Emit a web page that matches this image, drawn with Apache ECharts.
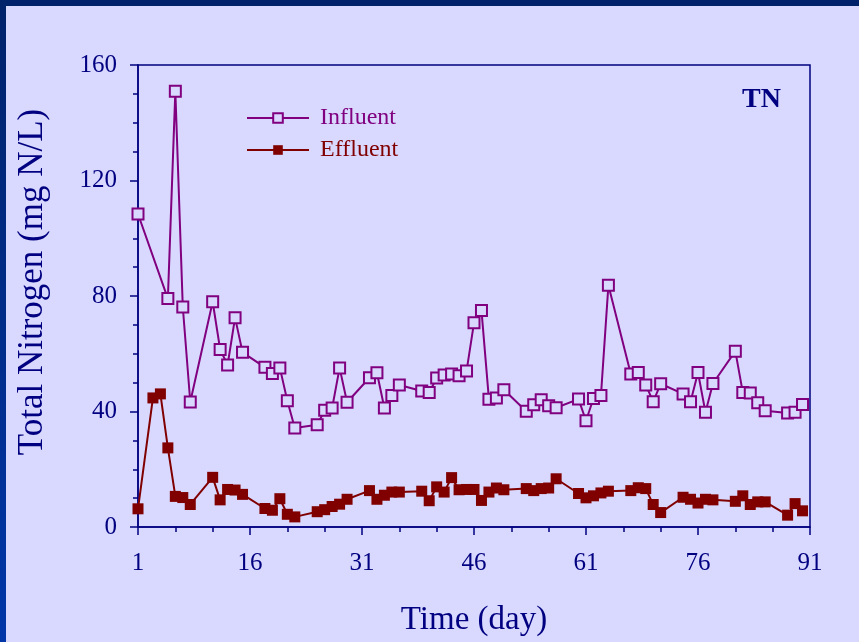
<!DOCTYPE html>
<html>
<head>
<meta charset="utf-8">
<script src="https://cdn.jsdelivr.net/npm/echarts@6/dist/echarts.min.js"></script>
<style>
html,body{margin:0;padding:0;background:#D9D9FF;}
#c{width:859px;height:642px;}
</style>
</head>
<body>
<div id="c"></div>
<script>
// ---- data ----
const infDays = [1,5,6,7,8,11,12,13,14,15,18,19,20,21,22,25,26,27,28,29,32,33,34,35,36,39,40,41,42,43,44,45,46,47,48,49,50,53,54,55,56,57,60,61,62,63,64,67,68,69,70,71,74,75,76,77,78,81,82,83,84,85,88,89,90];
const infValues = [108.4,79.1,150.9,76.2,43.3,78.0,61.5,56.1,72.5,60.5,55.3,53.2,55.1,43.7,34.3,35.4,40.4,41.2,55.1,43.2,51.7,53.4,41.2,45.5,49.2,47.1,46.6,51.6,52.6,53.0,52.4,54.0,70.7,75.0,44.2,44.7,47.5,40.1,42.3,44.1,42.0,41.3,44.3,36.8,44.5,45.5,83.7,53.0,53.5,49.2,43.4,49.6,46.1,43.4,53.5,39.7,49.7,60.9,46.6,46.4,43.0,40.3,39.5,39.7,42.4];
const effDays = [1,3,4,5,6,7,8,11,12,13,14,15,18,19,20,21,22,25,26,27,28,29,32,33,34,35,36,39,40,41,42,43,44,45,46,47,48,49,50,53,54,55,56,57,60,61,62,63,64,67,68,69,70,71,74,75,76,77,78,81,82,83,84,85,88,89,90];
const effValues = [6.3,44.7,46.1,27.4,10.6,10.2,7.8,17.2,9.4,13.0,12.8,11.3,6.4,5.8,9.8,4.4,3.5,5.3,6.0,7.1,7.9,9.6,12.6,9.6,11.0,12.1,12.1,12.4,9.1,13.9,12.1,17.1,12.9,13.0,13.0,9.2,12.1,13.5,12.9,13.3,12.6,13.3,13.5,16.7,11.6,10.1,10.8,11.8,12.4,12.6,13.6,13.3,7.8,5.0,10.3,9.6,8.3,9.6,9.4,8.9,10.8,7.8,8.7,8.7,4.1,8.1,5.6];
const seriesNames = ['Influent','Effluent'];
const xTickLabels = ['1','16','31','46','61','76','91'];
const yTickLabels = ['0','40','80','120','160'];
const xTitle = 'Time (day)';
const yTitle = 'Total Nitrogen (mg N/L)';
const tag = 'TN';

// ---- chart ----
const NAVY = '#000080';
const PURPLE = '#800080';
const DARKRED = '#800000';
const BG = '#D9D9FF';
const FONT = '"Liberation Serif","DejaVu Serif",serif';

const pairs = (d, v) => d.map((x, i) => [x - 1, v[i]]);

const chart = echarts.init(document.getElementById('c'), null, {renderer: 'canvas'});
chart.setOption({
  backgroundColor: BG,
  animation: false,
  graphic: [
    {type: 'rect', shape: {x: 0, y: 0, width: 859, height: 6}, style: {fill: '#00226A'}, z: 100},
    {type: 'rect', shape: {x: 0, y: 0, width: 6, height: 642},
      style: {fill: new echarts.graphic.LinearGradient(0, 0, 0, 1, [{offset: 0, color: '#00226A'}, {offset: 1, color: '#0036A8'}])}, z: 100},
    {type: 'text', left: 742, top: 86, style: {text: tag, font: 'bold 28px ' + FONT, fill: NAVY}}
  ],
  grid: {left: 138, right: 49, top: 65, bottom: 113, show: true, borderColor: NAVY, borderWidth: 1.5, backgroundColor: 'transparent'},
  legend: {
    orient: 'vertical', left: 241, top: 101, itemWidth: 62, itemHeight: 12, itemGap: 8,
    data: [
      {name: seriesNames[0], textStyle: {color: PURPLE}},
      {name: seriesNames[1], textStyle: {color: DARKRED}}
    ],
    textStyle: {fontFamily: FONT, fontSize: 24, padding: [0, 0, 0, 6]}
  },
  xAxis: {
    type: 'value', min: 0, max: 90, interval: 15,
    name: xTitle, nameLocation: 'middle', nameGap: 77,
    nameTextStyle: {fontFamily: FONT, fontSize: 33, color: NAVY},
    axisLine: {lineStyle: {color: NAVY, width: 1.5}},
    axisTick: {show: true, length: 8, lineStyle: {color: NAVY, width: 1.5}},
    minorTick: {show: true, splitNumber: 3, length: 5, lineStyle: {color: NAVY, width: 1.5}},
    splitLine: {show: false},
    axisLabel: {
      fontFamily: FONT, fontSize: 25, color: NAVY, margin: 24,
      formatter: v => xTickLabels[Math.round(v / 15)]
    }
  },
  yAxis: {
    type: 'value', min: 0, max: 160, interval: 40,
    name: yTitle, nameLocation: 'middle', nameGap: 88,
    nameTextStyle: {fontFamily: FONT, fontSize: 35, color: NAVY, padding: [0, 0, 0, 28]},
    axisLine: {show: true, lineStyle: {color: NAVY, width: 1.5}},
    axisTick: {show: true, length: 8, lineStyle: {color: NAVY, width: 1.5}},
    minorTick: {show: true, splitNumber: 4, length: 5, lineStyle: {color: NAVY, width: 1.5}},
    splitLine: {show: false},
    axisLabel: {
      fontFamily: FONT, fontSize: 25, color: NAVY, margin: 21,
      formatter: v => yTickLabels[Math.round(v / 40)]
    }
  },
  series: [
    {
      name: seriesNames[0], type: 'line', data: pairs(infDays, infValues),
      symbol: 'rect', symbolSize: 11, showAllSymbol: true,
      lineStyle: {color: PURPLE, width: 2},
      itemStyle: {color: BG, borderColor: PURPLE, borderWidth: 2},
      z: 2
    },
    {
      name: seriesNames[1], type: 'line', data: pairs(effDays, effValues),
      symbol: 'rect', symbolSize: 11, showAllSymbol: true,
      lineStyle: {color: DARKRED, width: 2},
      itemStyle: {color: DARKRED, borderColor: DARKRED, borderWidth: 0},
      z: 3
    }
  ]
});
</script>
</body>
</html>
